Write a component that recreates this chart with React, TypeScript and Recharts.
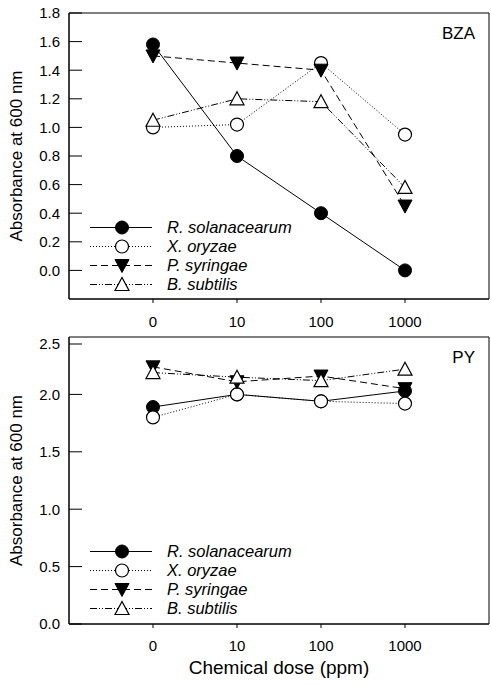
import React from 'react';
import { LineChart, Line, XAxis, YAxis, ReferenceArea, Legend } from 'recharts';

// ---- data ----
const doseLabels = ['0', '10', '100', '1000'];
const seriesNames = ['R. solanacearum', 'X. oryzae', 'P. syringae', 'B. subtilis'];

const bzaRSolanacearum = [1.58, 0.8, 0.4, 0.0];
const bzaXOryzae = [1.0, 1.02, 1.45, 0.95];
const bzaPSyringae = [1.5, 1.45, 1.4, 0.45];
const bzaBSubtilis = [1.05, 1.2, 1.18, 0.58];

const pyRSolanacearum = [1.89, 2.0, 1.94, 2.03];
const pyXOryzae = [1.8, 2.0, 1.94, 1.92];
const pyPSyringae = [2.24, 2.11, 2.16, 2.05];
const pyBSubtilis = [2.19, 2.15, 2.12, 2.22];

const bzaTicks = [0, 0.2, 0.4, 0.6, 0.8, 1.0, 1.2, 1.4, 1.6, 1.8];
const pyTicks = [0, 0.5, 1.0, 1.5, 2.0, 2.5];

const buildRows = (a: number[], b: number[], c: number[], d: number[]) =>
  doseLabels.map((dose, i) => ({ idx: i, dose, rs: a[i], xo: b[i], ps: c[i], bs: d[i] }));

const bzaData = buildRows(bzaRSolanacearum, bzaXOryzae, bzaPSyringae, bzaBSubtilis);
const pyData = buildRows(pyRSolanacearum, pyXOryzae, pyPSyringae, pyBSubtilis);

// ---- styles ----
const FONT = '"Liberation Sans", Arial, Helvetica, sans-serif';
const keys = ['rs', 'xo', 'ps', 'bs'];
const dashes: Record<string, string | undefined> = {
  rs: undefined,
  xo: '1 2',
  ps: '7 4',
  bs: '7 2 1 2 1 2',
};

const Marker = ({ kind, cx, cy }: { kind: string; cx: number; cy: number }) => {
  if (cx == null || cy == null) return null;
  if (kind === 'rs') return <circle cx={cx} cy={cy} r={6.5} fill="#000" stroke="#000" />;
  if (kind === 'xo') return <circle cx={cx} cy={cy} r={6.5} fill="#fff" stroke="#000" strokeWidth={1.2} />;
  if (kind === 'ps')
    return (
      <polygon
        points={`${cx - 7},${cy - 6} ${cx + 7},${cy - 6} ${cx},${cy + 7}`}
        fill="#000"
        stroke="#000"
      />
    );
  return (
    <polygon
      points={`${cx - 7},${cy + 6} ${cx + 7},${cy + 6} ${cx},${cy - 7}`}
      fill="#fff"
      stroke="#000"
      strokeWidth={1.2}
    />
  );
};

const makeDot = (kind: string) => (props: any) => (
  <Marker key={`${kind}-${props.index}`} kind={kind} cx={props.cx} cy={props.cy} />
);

const InTick = (props: any) => {
  const { x, y, payload } = props;
  return (
    <g>
      <line x1={x} x2={x + 13} y1={y} y2={y} stroke="#000" strokeWidth={1} />
      <text x={x - 9} y={y} dy="0.36em" textAnchor="end" fontSize={15} fontFamily={FONT} fill="#000">
        {Number(payload.value).toFixed(1)}
      </text>
    </g>
  );
};

const LegendBox = () => (
  <svg width={240} height={76} style={{ display: 'block' }}>
    {keys.map((k, i) => {
      const cy = 9.5 + 19 * i;
      return (
        <g key={k}>
          <line x1={0} x2={62} y1={cy} y2={cy} stroke="#000" strokeWidth={1} strokeDasharray={dashes[k]} />
          <Marker kind={k} cx={32} cy={cy} />
          <text x={77} y={cy} dy="0.36em" fontSize={16.5} fontStyle="italic" fontFamily={FONT} fill="#000">
            {seriesNames[i]}
          </text>
        </g>
      );
    })}
  </svg>
);

const tickStyle = { fontSize: 15, fontFamily: FONT, fill: '#000' };

const renderLines = () =>
  keys.map((k, i) => (
    <Line
      key={k}
      dataKey={k}
      name={seriesNames[i]}
      stroke="#000"
      strokeWidth={1}
      strokeDasharray={dashes[k]}
      dot={makeDot(k)}
      activeDot={false}
      isAnimationActive={false}
    />
  ));

export default function App() {
  return (
    <div style={{ position: 'absolute', left: 0, top: 0, width: 491, height: 686, background: '#fff' }}>
      <div style={{ position: 'absolute', left: 0, top: 0 }}>
        <LineChart width={491} height={335} data={bzaData} margin={{ top: 13, right: 2, bottom: 6, left: 0 }}>
          <XAxis
            dataKey="idx"
            type="number"
            domain={[-1, 4]}
            ticks={[0, 1, 2, 3]}
            tickFormatter={(v: number) => doseLabels[v]}
            allowDataOverflow
            height={30}
            tickSize={4}
            tickMargin={13}
            tick={tickStyle}
            stroke="#000"
          />
          <YAxis
            type="number"
            domain={[-0.2, 1.8]}
            ticks={bzaTicks}
            allowDataOverflow
            width={69}
            tickSize={0}
            tickMargin={0}
            tickLine={false}
            tick={<InTick />}
            stroke="#000"
            label={{
              value: 'Absorbance at 600 nm',
              angle: -90,
              position: 'insideLeft',
              offset: 16,
              style: { textAnchor: 'middle', fontSize: 17, fontFamily: FONT, fill: '#000' },
            }}
          />
          <ReferenceArea
            x1={-1}
            x2={4}
            y1={-0.2}
            y2={1.8}
            fill="none"
            stroke="#000"
            strokeWidth={1}
            ifOverflow="visible"
            label={{ value: 'BZA', position: 'insideTopRight', offset: 14, style: { fontSize: 17, fontFamily: FONT, fill: '#000' } }}
          />
          {renderLines()}
          <Legend
            layout="vertical"
            align="center"
            verticalAlign="middle"
            content={() => <LegendBox />}
            wrapperStyle={{ left: 90, top: 217.5, width: 240, height: 76 }}
          />
        </LineChart>
      </div>
      <div style={{ position: 'absolute', left: 0, top: 335 }}>
        <LineChart width={491} height={351} data={pyData} margin={{ top: 2, right: 2, bottom: 7, left: 0 }}>
          <XAxis
            dataKey="idx"
            type="number"
            domain={[-1, 4]}
            ticks={[0, 1, 2, 3]}
            tickFormatter={(v: number) => doseLabels[v]}
            allowDataOverflow
            height={55}
            tickSize={4}
            tickMargin={12}
            tick={tickStyle}
            stroke="#000"
            label={{
              value: 'Chemical dose (ppm)',
              position: 'insideBottom',
              offset: 5,
              style: { fontSize: 19, fontFamily: FONT, fill: '#000' },
            }}
          />
          <YAxis
            type="number"
            domain={[0, 2.5]}
            ticks={pyTicks}
            allowDataOverflow
            width={69}
            tickSize={0}
            tickMargin={0}
            tickLine={false}
            tick={<InTick />}
            stroke="#000"
            label={{
              value: 'Absorbance at 600 nm',
              angle: -90,
              position: 'insideLeft',
              offset: 16,
              style: { textAnchor: 'middle', fontSize: 17, fontFamily: FONT, fill: '#000' },
            }}
          />
          <ReferenceArea
            x1={-1}
            x2={4}
            y1={0}
            y2={2.5}
            fill="none"
            stroke="#000"
            strokeWidth={1}
            ifOverflow="visible"
            label={{ value: 'PY', position: 'insideTopRight', offset: 14, style: { fontSize: 17, fontFamily: FONT, fill: '#000' } }}
          />
          {renderLines()}
          <Legend
            layout="vertical"
            align="center"
            verticalAlign="middle"
            content={() => <LegendBox />}
            wrapperStyle={{ left: 90, top: 206.5, width: 240, height: 76 }}
          />
        </LineChart>
      </div>
    </div>
  );
}
